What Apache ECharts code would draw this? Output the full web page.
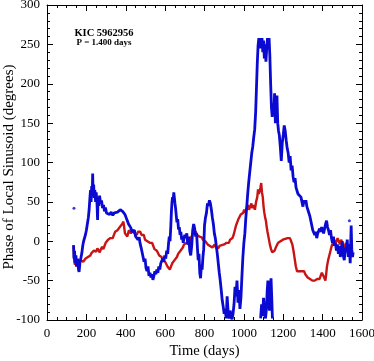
<!DOCTYPE html>
<html>
<head>
<meta charset="utf-8">
<script src="https://cdn.jsdelivr.net/npm/echarts@6/dist/echarts.min.js"></script>
<style>
  html, body { margin: 0; padding: 0; background: #fff; }
  #chart { width: 374px; height: 361px; }
</style>
</head>
<body>
<div id="chart"></div>
<script>
// x ticks and y ticks
var xTicks = [0, 200, 400, 600, 800, 1000, 1200, 1400, 1600]
var yTicks = [-100, -50, 0, 50, 100, 150, 200, 250, 300]

// blue: local phase (days, degrees)
var blueDays = [135, 137, 140, 143, 147, 150, 155, 160, 163, 167, 172, 177, 182, 186, 190, 195, 200, 205, 210, 214, 218, 221, 224, 227, 230, 232, 234, 237, 240, 243, 247, 250, 254, 257, 259, 263, 267, 272, 277, 282, 287, 292, 297, 302, 310, 318, 326, 334, 342, 350, 358, 366, 372, 378, 384, 390, 396, 402, 408, 414, 420, 426, 432, 438, 444, 450, 456, 462, 468, 473, 478, 483, 488, 493, 498, 503, 508, 513, 518, 523, 528, 533, 538, 543, 548, 553, 558, 563, 568, 573, 578, 583, 588, 593, 598, 603, 608, 613, 617, 621, 625, 629, 632, 635, 638, 641, 644, 647, 650, 653, 656, 660, 664, 668, 672, 676, 680, 684, 688, 692, 696, 700, 705, 710, 715, 720, 725, 730, 735, 740, 745, 750, 755, 760, 764, 768, 772, 776, 780, 784, 788, 792, 796, 800, 805, 810, 815, 820, 825, 830, 835, 840, 845, 850, 855, 860, 865, 870, 875, 880, 885, 890, 895, 900, 905, 910, 915, 920, 925, 930, 935, 940, 945, 950, 955, 960, 965, 970, 975, 980, 985, 990, 995, 1000, 1005, 1010, 1015, 1020, 1025, 1030, 1035, 1040, 1045, 1050, 1055, 1060, 1064, 1068, 1072, 1076, 1080, 1084, 1088, 1092, 1096, 1100, 1104, 1108, 1112, 1116, 1120, 1124, 1128, 1132, 1136, 1140, 1144, 1148, 1152, 1156, 1160, 1164, 1168, 1172, 1176, 1180, 1185, 1190, 1195, 1200, 1205, 1210, 1215, 1220, 1225, 1230, 1235, 1240, 1245, 1250, 1255, 1260, 1265, 1270, 1275, 1280, 1285, 1290, 1295, 1300, 1305, 1310, 1315, 1320, 1325, 1330, 1335, 1340, 1345, 1350, 1355, 1360, 1365, 1370, 1375, 1380, 1385, 1390, 1395, 1400, 1405, 1410, 1415, 1420, 1425, 1430, 1435, 1440, 1445, 1450, 1455, 1460, 1465, 1470, 1475, 1480, 1485, 1490, 1495, 1500, 1505, 1510, 1515, 1520, 1525, 1530, 1535, 1540, 1545, 1548, 1552, 1555]
var bluePhase = [-5, -22, -12, -28, -18, -32, -22, -36, -39, -28, -30, -15, -5, 0, -2, 8, 14, 12, 30, 40, 55, 65, 50, 70, 62, 86, 60, 72, 55, 65, 50, 62, 48, 27, 55, 45, 58, 48, 52, 42, 46, 38, 43, 36, 38, 34, 37, 33, 36, 34, 37, 36, 40, 42, 38, 36, 34, 30, 26, 22, 20, 17, 12, 10, 14, 6, 8, 2, 5, -3, -8, -14, -20, -26, -22, -34, -38, -32, -44, -40, -46, -42, -49, -44, -38, -42, -36, -40, -32, -36, -28, -30, -22, -26, -18, -22, -12, -16, -4, 6, 0, 20, 38, 50, 56, 52, 62, 55, 48, 42, 34, 24, 28, 15, 18, 8, 12, 2, 6, -2, 4, 8, 4, 10, -4, 6, -12, -18, -6, 14, 22, 16, 6, 10, -8, -24, -16, -40, -47, -30, -36, -20, -10, 20, 30, 36, 48, 45, 52, 48, 40, 30, 22, 10, 4, -6, -16, -28, -40, -50, -62, -75, -83, -92, -86, -98, -70, -90, -98, -88, -95, -99, -92, -80, -58, -70, -50, -78, -62, -86, -72, -45, -20, -2, 10, 30, 45, 62, 76, 88, 100, 112, 120, 132, 142, 165, 195, 225, 248, 258, 245, 258, 250, 258, 240, 255, 232, 250, 228, 245, 258, 250, 258, 235, 200, 170, 158, 175, 160, 188, 150, 165, 185, 150, 140, 135, 120, 102, 125, 135, 147, 140, 128, 118, 112, 100, 108, 90, 96, 82, 75, 80, 68, 70, 60, 58, 62, 56, 50, 44, 52, 48, 52, 44, 40, 38, 32, 26, 20, 14, 16, 8, 12, 4, 10, 8, 16, 12, 18, 14, 10, 16, 22, 26, 18, 14, 8, 14, 4, -2, 6, -6, -2, -12, -4, -16, -6, -20, -10, 0, -18, -24, -8, -14, 2, -20, -4, -28, 20, -10, -20, -14]

// blue points that wrapped past 260 and show up near the floor
var wrapDays = [1085, 1090, 1095, 1100, 1105, 1110, 1115, 1118, 1122, 1126, 1130, 1134, 1138, 1142, 1145]
var wrapPhase = [-98, -80, -95, -72, -90, -98, -85, -65, -50, -70, -88, -60, -47, -75, -98]

// stray blue points
var dotDays = [137, 1536]
var dotPhase = [42, 26]

// red
var redDays = [135, 138, 142, 146, 150, 155, 160, 166, 172, 178, 184, 190, 196, 202, 208, 214, 220, 226, 232, 238, 244, 250, 256, 262, 268, 274, 280, 286, 292, 298, 304, 310, 316, 322, 328, 334, 340, 346, 352, 358, 364, 370, 376, 382, 388, 392, 396, 400, 404, 408, 412, 416, 420, 426, 432, 438, 444, 450, 456, 462, 468, 474, 480, 486, 492, 498, 504, 510, 516, 522, 528, 534, 540, 546, 552, 558, 564, 570, 576, 582, 588, 594, 600, 606, 612, 618, 624, 630, 636, 642, 648, 654, 660, 666, 672, 678, 684, 690, 696, 702, 708, 714, 720, 726, 732, 738, 744, 750, 756, 762, 768, 774, 780, 786, 792, 798, 804, 810, 816, 822, 828, 834, 840, 846, 852, 858, 864, 870, 876, 882, 888, 894, 900, 906, 912, 918, 924, 930, 936, 942, 948, 954, 960, 966, 972, 978, 984, 990, 996, 1002, 1008, 1014, 1020, 1026, 1032, 1038, 1044, 1050, 1056, 1062, 1068, 1072, 1076, 1080, 1084, 1088, 1092, 1096, 1100, 1104, 1108, 1112, 1116, 1120, 1126, 1132, 1138, 1144, 1150, 1156, 1162, 1168, 1174, 1180, 1186, 1192, 1198, 1204, 1210, 1216, 1222, 1228, 1234, 1240, 1246, 1252, 1258, 1264, 1270, 1276, 1282, 1288, 1294, 1300, 1306, 1312, 1318, 1324, 1330, 1336, 1342, 1348, 1354, 1360, 1366, 1372, 1378, 1384, 1390, 1396, 1402, 1408, 1414, 1418, 1422, 1428, 1434, 1440, 1446, 1452, 1458, 1464, 1470, 1476, 1482, 1488, 1494, 1500, 1506, 1512, 1518, 1524, 1530, 1536, 1542, 1548, 1554]
var redPhase = [-5, -24, -30, -26, -32, -28, -24, -27, -24, -22, -26, -24, -22, -24, -20, -21, -18, -15, -17, -12, -10, -13, -9, -11, -14, -10, -7, -10, -6, -2, -1, 2, 0, 4, 6, 4, 8, 12, 10, 14, 16, 18, 16, 22, 25, 18, 10, 12, 8, 6, 10, 14, 12, 10, 12, 14, 10, 12, 8, 12, 10, 12, 8, 6, 8, 2, 4, 0, 2, -2, -4, -2, -6, -10, -8, -12, -14, -18, -16, -20, -24, -22, -26, -28, -32, -34, -36, -32, -28, -30, -24, -26, -20, -16, -18, -12, -14, -8, -4, -6, -2, 0, -4, 2, 4, 8, 12, 10, 12, 8, 10, 6, 8, 5, 2, 4, 0, -2, -4, -2, -6, -4, -8, -6, -4, -8, -6, -9, -6, -8, -5, -7, -4, -6, -2, 0, -2, 2, 0, 4, 8, 14, 20, 24, 28, 30, 34, 32, 36, 40, 36, 42, 46, 40, 44, 48, 42, 46, 40, 50, 56, 66, 60, 64, 68, 74, 62, 56, 44, 36, 30, 26, 18, 12, 4, -4, -10, -14, -16, -12, -8, -6, -2, -4, 0, -2, 2, 0, 3, 2, 4, 6, 4, 2, -4, -12, -22, -32, -38, -36, -38, -36, -38, -40, -38, -42, -44, -46, -46, -48, -50, -50, -52, -50, -52, -48, -46, -48, -44, -40, -38, -46, -50, -42, -32, -24, -18, -12, -6, -2, 2, -4, 0, 4, 2, -4, 2, 4, -6, -10, -2, -12, -4, -8, -14, -6]

function pairs (xs, ys) {
  return xs.map(function (x, i) { return [x, ys[i]] })
}

var serif = 'Liberation Serif'
var black = '#000'

function makeX (pos, labels) {
  return {
    type: 'value', position: pos, min: xTicks[0], max: xTicks[xTicks.length - 1],
    interval: xTicks[1] - xTicks[0],
    name: labels ? 'Time (days)' : '', nameLocation: 'middle', nameGap: 24, nameMoveOverlap: false,
    nameTextStyle: { fontFamily: serif, fontSize: 14.5, color: black },
    axisLine: { show: true, onZero: false, lineStyle: { color: black, width: 1 } },
    axisTick: { show: true, inside: true, length: 6, lineStyle: { color: black } },
    minorTick: { show: true, splitNumber: 4, length: 3, lineStyle: { color: black } },
    splitLine: { show: false },
    axisLabel: { show: labels, fontFamily: serif, fontSize: 13, color: black, margin: 7,
      formatter: function (v) { return String(v) } }
  }
}

function makeY (pos, labels) {
  return {
    type: 'value', position: pos, min: yTicks[0], max: yTicks[yTicks.length - 1],
    interval: yTicks[1] - yTicks[0],
    axisLine: { show: true, onZero: false, lineStyle: { color: black, width: 1 } },
    axisTick: { show: true, inside: true, length: 6, lineStyle: { color: black } },
    minorTick: { show: true, splitNumber: 5, length: 3, lineStyle: { color: black } },
    splitLine: { show: false },
    axisLabel: { show: labels, fontFamily: serif, fontSize: 13, color: black, margin: 7,
      formatter: function (v) { return String(v) } }
  }
}

var chart = echarts.init(document.getElementById('chart'))
chart.setOption({
  animation: false,
  backgroundColor: '#fff',
  grid: { left: 47, right: 12, top: 5, bottom: 41, containLabel: false, outerBoundsMode: 'none' },
  xAxis: [makeX('bottom', true), makeX('top', false)],
  yAxis: [makeY('left', true), makeY('right', false)],
  graphic: [
    { type: 'text', x: 104, y: 33, style: { text: 'KIC 5962956', font: 'bold 10.5px "Liberation Serif"', fill: black, align: 'center', verticalAlign: 'middle' } },
    { type: 'text', x: 104, y: 43, style: { text: 'P = 1.400 days', font: 'bold 9px "Liberation Serif"', fill: black, align: 'center', verticalAlign: 'middle' } },
    // y axis title, a little below the plot centre as in the original
    { type: 'text', x: 9, y: 167, rotation: Math.PI / 2,
      style: { text: 'Phase of Local Sinusoid (degrees)', font: '15px "Liberation Serif"', fill: black, align: 'center', verticalAlign: 'middle' } }
  ],
  series: [
    {
      name: 'red', type: 'line', symbol: 'none', clip: true,
      lineStyle: { color: '#c81414', width: 2.4 },
      data: pairs(redDays, redPhase)
    },
    {
      name: 'blue', type: 'line', symbol: 'none', clip: true,
      lineStyle: { color: '#0a0ad2', width: 2.8 },
      data: pairs(blueDays, bluePhase)
    },
    {
      name: 'blue wrap', type: 'line', symbol: 'none', clip: true,
      lineStyle: { color: '#0a0ad2', width: 2.8 },
      data: pairs(wrapDays, wrapPhase)
    },
    {
      name: 'blue dots', type: 'scatter', symbolSize: 3,
      itemStyle: { color: '#0a0ad2' },
      data: pairs(dotDays, dotPhase)
    }
  ]
})
</script>
</body>
</html>
